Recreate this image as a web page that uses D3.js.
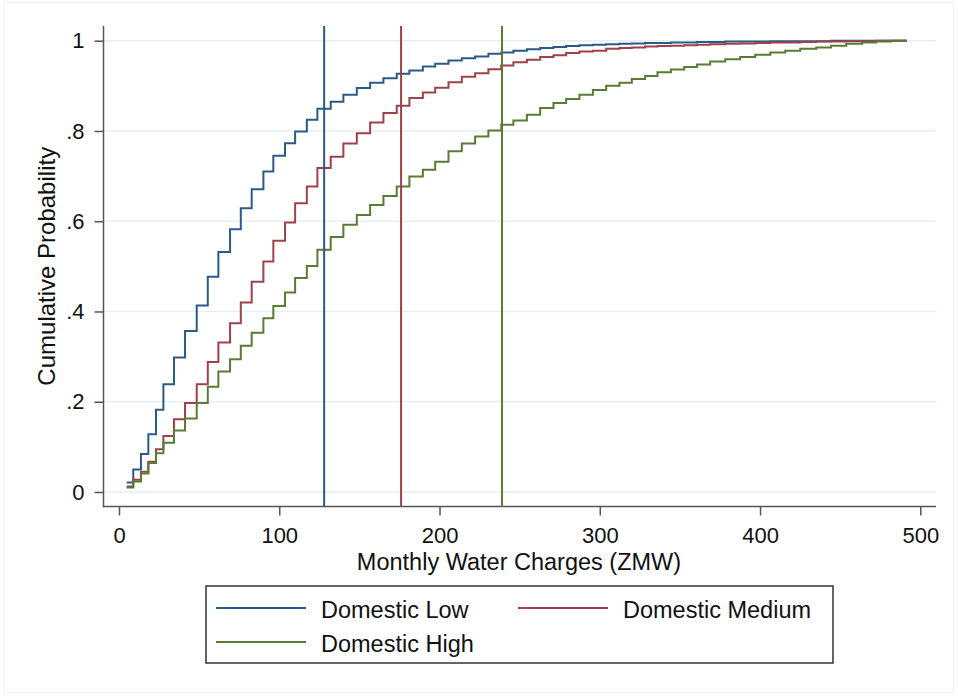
<!DOCTYPE html>
<html>
<head>
<meta charset="utf-8">
<script src="https://cdn.jsdelivr.net/npm/d3@7"></script>
<style>
  body { margin: 0; background: #ffffff; }
  svg { display: block; font-family: "Liberation Sans", Arial, sans-serif; }
</style>
</head>
<body>
<div id="chart"></div>
<script>
// Monthly water charge grid (ZMW) where the empirical CDFs step
var charges = [4.8, 8.9, 13.7, 18.3, 23.1, 27.7, 34.3, 41.2, 48.5, 55.4,
    62.0, 69.3, 76.0, 82.8, 90.1, 96.3, 103.6, 109.9, 117.2, 123.8,
    132.1, 140.0, 148.4, 156.7, 165.0, 173.3, 181.2, 189.6, 197.3, 205.6,
    213.9, 222.2, 230.5, 238.5, 246.1, 254.5, 262.8, 271.1, 279.0, 287.3,
    295.7, 304.0, 312.3, 320.0, 328.3, 336.0, 344.4, 352.7, 360.6, 368.9,
    378.3, 387.6, 397.0, 406.4, 415.7, 425.1, 435.1, 444.3, 453.8, 463.6,
    472.5, 481.7, 491.7];

var cdfLow = [0.021, 0.050, 0.084, 0.128, 0.182, 0.239, 0.298, 0.357, 0.413, 0.477,
    0.532, 0.582, 0.629, 0.671, 0.710, 0.745, 0.773, 0.799, 0.825, 0.849,
    0.865, 0.880, 0.895, 0.907, 0.917, 0.927, 0.934, 0.943, 0.949, 0.956,
    0.961, 0.965, 0.971, 0.974, 0.978, 0.981, 0.984, 0.986, 0.988, 0.990,
    0.991, 0.992, 0.993, 0.994, 0.995, 0.995, 0.996, 0.996, 0.997, 0.997,
    0.998, 0.998, 0.998, 0.999, 0.999, 0.999, 0.999, 1, 1, 1,
    1, 1, 1];

var cdfMedium = [0.012, 0.027, 0.045, 0.067, 0.095, 0.124, 0.161, 0.197, 0.239, 0.288,
    0.331, 0.374, 0.420, 0.466, 0.511, 0.557, 0.597, 0.640, 0.677, 0.718,
    0.743, 0.772, 0.795, 0.819, 0.840, 0.856, 0.873, 0.885, 0.896, 0.908,
    0.920, 0.928, 0.937, 0.945, 0.952, 0.958, 0.964, 0.968, 0.973, 0.976,
    0.978, 0.982, 0.984, 0.985, 0.987, 0.988, 0.989, 0.990, 0.991, 0.992,
    0.993, 0.994, 0.995, 0.996, 0.996, 0.997, 0.998, 0.998, 0.999, 0.999,
    1, 1, 1];

var cdfHigh = [0.010, 0.023, 0.041, 0.064, 0.086, 0.109, 0.136, 0.163, 0.197, 0.233,
    0.267, 0.294, 0.324, 0.353, 0.385, 0.412, 0.442, 0.474, 0.501, 0.537,
    0.565, 0.592, 0.614, 0.636, 0.656, 0.677, 0.699, 0.714, 0.732, 0.755,
    0.772, 0.788, 0.801, 0.814, 0.823, 0.836, 0.851, 0.862, 0.871, 0.880,
    0.891, 0.900, 0.907, 0.915, 0.922, 0.930, 0.936, 0.942, 0.947, 0.954,
    0.959, 0.964, 0.969, 0.974, 0.978, 0.982, 0.985, 0.989, 0.993, 0.996,
    0.998, 1.0, 1.0];

var seriesNames = ["Domestic Low", "Domestic Medium", "Domestic High"];
var meanCharges = [128, 176, 239];   // vertical reference lines
var xTicks = [0, 100, 200, 300, 400, 500];
var yTicks = [0, 0.2, 0.4, 0.6, 0.8, 1];

var width = 958;
var height = 696;
var plot = {left: 103.5, right: 936, top: 26, bottom: 506.5};
var colors = ["#2a5a88", "#a0414a", "#5a7b33"];
var font = '"Liberation Sans", Arial, sans-serif';

var svg = d3.select("#chart").append("svg")
    .attr("width", width)
    .attr("height", height);

// faint outer frame
svg.append("rect")
    .attr("x", 4.5).attr("y", 2.5)
    .attr("width", 949).attr("height", 690)
    .style("fill", "none")
    .style("stroke", "#eef2f3")
    .style("stroke-width", 1);

var x = d3.scaleLinear().domain([0, 500]).range([119, 920.3]);
var y = d3.scaleLinear().domain([0, 1]).range([492, 40.7]);

// gridlines
svg.append("g")
    .selectAll("line")
    .data(yTicks)
    .enter().append("line")
    .attr("x1", plot.left).attr("x2", plot.right)
    .attr("y1", function(d) { return y(d); })
    .attr("y2", function(d) { return y(d); })
    .style("stroke", "#e7eff2")
    .style("stroke-width", 1.5);

// Y axis
var yAxis = d3.axisLeft(y)
    .tickValues(yTicks)
    .tickSize(9)
    .tickPadding(10)
    .tickFormat(function(d) {
        if (d === 0) return "0";
        if (d === 1) return "1";
        return d3.format(".1f")(d).replace("0.", ".");
    });

var gy = svg.append("g")
    .attr("transform", "translate(" + plot.left + ",0)")
    .call(yAxis);

// X axis
var xAxis = d3.axisBottom(x)
    .tickValues(xTicks)
    .tickSize(9)
    .tickPadding(12)
    .tickFormat(d3.format("d"));

var gx = svg.append("g")
    .attr("transform", "translate(0," + plot.bottom + ")")
    .call(xAxis);

[gx, gy].forEach(function(g) {
    g.select(".domain").remove();
    g.selectAll(".tick line").style("stroke", "#555").style("stroke-width", 1.5);
    g.selectAll(".tick text")
        .style("font-family", font)
        .style("font-size", "22px")
        .style("fill", "#111");
});

// axis lines
svg.append("line")
    .attr("x1", plot.left).attr("x2", plot.left)
    .attr("y1", plot.top).attr("y2", plot.bottom + 0.75)
    .style("stroke", "#555").style("stroke-width", 1.5);
svg.append("line")
    .attr("x1", plot.left - 0.75).attr("x2", plot.right)
    .attr("y1", plot.bottom).attr("y2", plot.bottom)
    .style("stroke", "#555").style("stroke-width", 1.5);

// Step lines for each tariff group
var series = [cdfLow, cdfMedium, cdfHigh];

var line = d3.line()
    .curve(d3.curveStepAfter)
    .x(function(d, i) { return x(charges[i]); })
    .y(function(d) { return y(d); });

svg.selectAll(".cdf")
    .data(series)
    .enter().append("path")
    .attr("class", "cdf")
    .attr("d", line)
    .style("fill", "none")
    .style("stroke", function(d, i) { return colors[i]; })
    .style("stroke-width", 2);

// vertical reference lines
svg.selectAll(".vline")
    .data(meanCharges)
    .enter().append("line")
    .attr("class", "vline")
    .attr("x1", function(d) { return x(d); })
    .attr("x2", function(d) { return x(d); })
    .attr("y1", plot.top)
    .attr("y2", plot.bottom)
    .style("stroke", function(d, i) { return colors[i]; })
    .style("stroke-width", 2);

// axis titles
svg.append("text")
    .attr("x", 519)
    .attr("y", 569.5)
    .style("text-anchor", "middle")
    .style("font-family", font)
    .style("font-size", "23.5px")
    .style("fill", "#111")
    .text("Monthly Water Charges (ZMW)");

svg.append("text")
    .attr("transform", "translate(55," + ((plot.top + plot.bottom) / 2) + ") rotate(-90)")
    .style("text-anchor", "middle")
    .style("font-family", font)
    .style("font-size", "24px")
    .style("fill", "#111")
    .text("Cumulative Probability");

// Legend
svg.append("rect")
    .attr("x", 206).attr("y", 586)
    .attr("width", 627).attr("height", 77)
    .style("fill", "#fff")
    .style("stroke", "#333")
    .style("stroke-width", 1.5);

var legendPos = [{x: 216, y: 608}, {x: 518, y: 608}, {x: 216, y: 642}];

var legend = svg.selectAll(".legend")
    .data(seriesNames)
    .enter().append("g")
    .attr("class", "legend")
    .attr("transform", function(d, i) { return "translate(" + legendPos[i].x + "," + legendPos[i].y + ")"; });

legend.append("line")
    .attr("x1", 0).attr("x2", 90)
    .style("stroke", function(d, i) { return colors[i]; })
    .style("stroke-width", 1.8);

legend.append("text")
    .attr("x", 105)
    .attr("y", 9.5)
    .style("font-family", font)
    .style("font-size", "23.5px")
    .style("fill", "#111")
    .text(function(d) { return d; });
</script>
</body>
</html>
